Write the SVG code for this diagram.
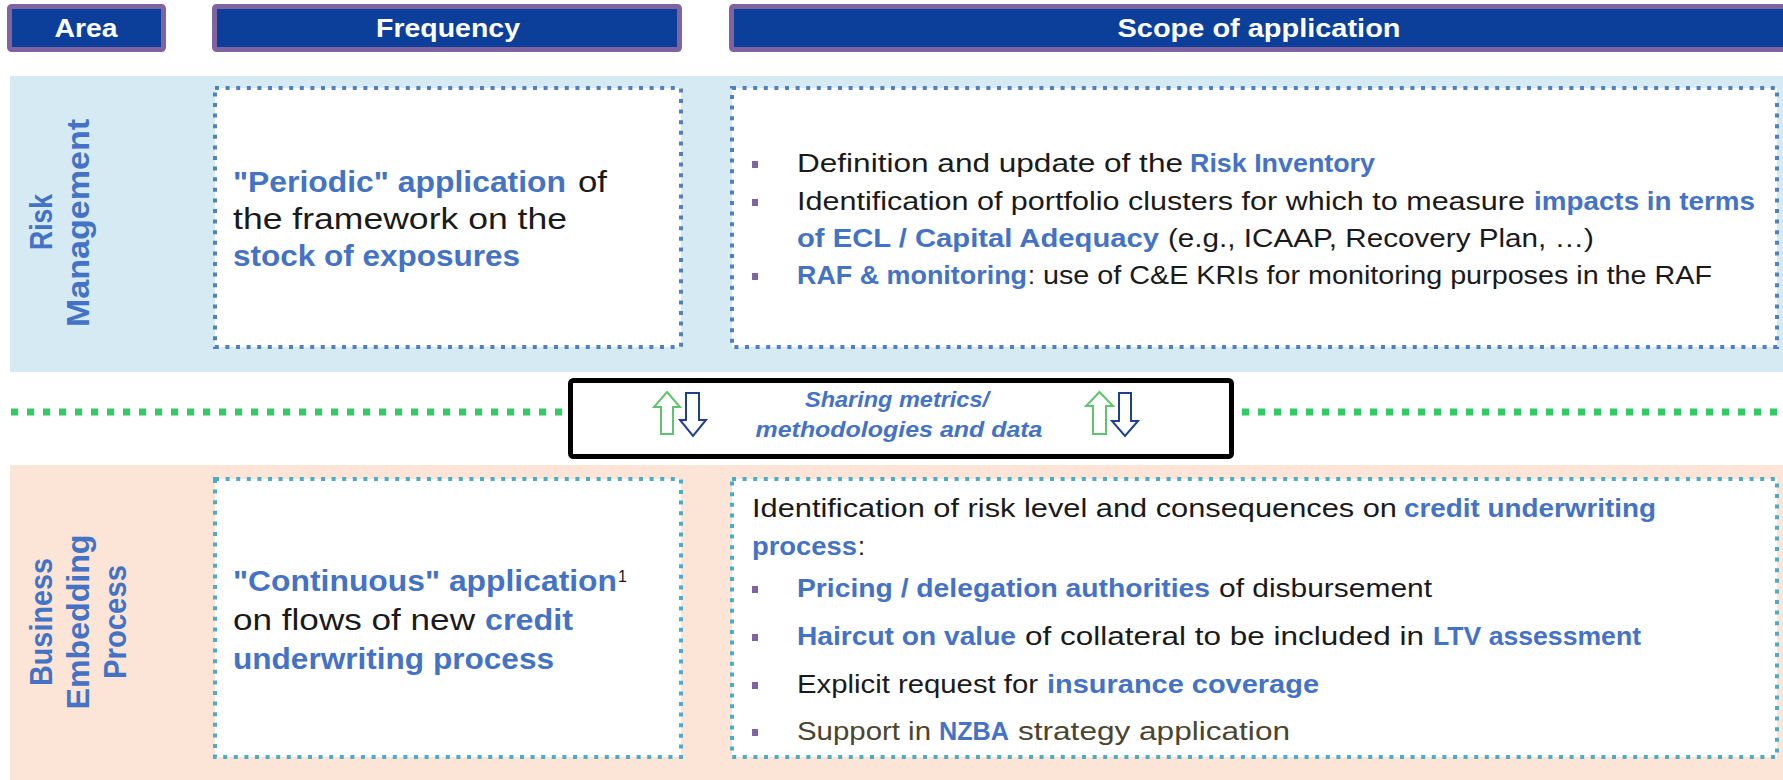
<svg xmlns="http://www.w3.org/2000/svg" width="1783" height="780" viewBox="0 0 1783 780">
<style>
text{font-family:"Liberation Sans",Arial,sans-serif}
.hdr{fill:#0B3F99;stroke:#8064A2;stroke-width:5}
.ht{fill:#fff;font-weight:bold;font-size:26px;text-anchor:middle}
.vt{fill:#4472C4;font-weight:bold;font-size:32px;text-anchor:middle}
.boxR{fill:#fff;stroke:#4F81BD;stroke-width:4;stroke-dasharray:4 6.6}
.boxB{fill:#fff;stroke:#4BACC6;stroke-width:4;stroke-dasharray:4 6.6}
.r{fill:#1A1A1A}
.o{fill:#4A4530}
.b{fill:#4472C4;font-weight:bold}
.f{font-size:29px}
.s{font-size:25px}
.mid{fill:#4472C4;font-size:22px;font-weight:bold;font-style:italic;text-anchor:middle}
.bul{fill:#8064A2}
.up{fill:#fff;stroke:#5EC46E;stroke-width:2}
.dn{fill:#fff;stroke:#1F3F8F;stroke-width:2}
.gl{stroke:#2ECC62;stroke-width:7;stroke-dasharray:7 9;fill:none}
</style>

<g id="header-area">
<rect class="hdr" x="9.5" y="6.5" width="154" height="43" rx="2"/>
<text class="ht" x="86" y="37" textLength="63" lengthAdjust="spacingAndGlyphs">Area</text>
</g>
<g id="header-frequency">
<rect class="hdr" x="214.5" y="6.5" width="465" height="43" rx="2"/>
<text class="ht" x="448" y="37" textLength="144" lengthAdjust="spacingAndGlyphs">Frequency</text>
</g>
<g id="header-scope">
<rect class="hdr" x="731.5" y="6.5" width="1100" height="43" rx="2"/>
<text class="ht" x="1259" y="37" textLength="283" lengthAdjust="spacingAndGlyphs">Scope of application</text>
</g>

<g id="band-risk">
<rect x="10" y="76" width="1773" height="296" fill="#D6EAF3"/>
<text class="vt" transform="translate(52,222) rotate(-90)" textLength="56" lengthAdjust="spacingAndGlyphs">Risk</text>
<text class="vt" transform="translate(89,223) rotate(-90)" textLength="208" lengthAdjust="spacingAndGlyphs">Management</text>
</g>

<g id="risk-frequency">
<rect class="boxR" x="215" y="88" width="466" height="259"/>
<text class="f b" x="233" y="192" textLength="333" lengthAdjust="spacingAndGlyphs">"Periodic" application</text>
<text class="f r" x="578" y="192" textLength="29" lengthAdjust="spacingAndGlyphs">of</text>
<text class="f r" x="233" y="229" textLength="334" lengthAdjust="spacingAndGlyphs">the framework on the</text>
<text class="f b" x="233" y="266" textLength="287" lengthAdjust="spacingAndGlyphs">stock of exposures</text>
</g>

<g id="risk-scope">
<rect class="boxR" x="732" y="88" width="1045" height="259"/>
<rect class="bul" x="752" y="161" width="6" height="7"/>
<rect class="bul" x="752" y="199" width="6" height="7"/>
<rect class="bul" x="752" y="273" width="6" height="7"/>
<text class="s r" x="797" y="172" textLength="386" lengthAdjust="spacingAndGlyphs">Definition and update of the</text>
<text class="s b" x="1190" y="172" textLength="185" lengthAdjust="spacingAndGlyphs">Risk Inventory</text>
<text class="s r" x="797" y="210" textLength="728" lengthAdjust="spacingAndGlyphs">Identification of portfolio clusters for which to measure</text>
<text class="s b" x="1534" y="210" textLength="221" lengthAdjust="spacingAndGlyphs">impacts in terms</text>
<text class="s b" x="797" y="247" textLength="362" lengthAdjust="spacingAndGlyphs">of ECL / Capital Adequacy</text>
<text class="s r" x="1168" y="247" textLength="426" lengthAdjust="spacingAndGlyphs">(e.g., ICAAP, Recovery Plan, …)</text>
<text class="s b" x="797" y="284" textLength="230" lengthAdjust="spacingAndGlyphs">RAF &amp; monitoring</text>
<text class="s r" x="1028" y="284">:</text>
<text class="s r" x="1043" y="284" textLength="669" lengthAdjust="spacingAndGlyphs">use of C&amp;E KRIs for monitoring purposes in the RAF</text>
</g>

<g id="connectors">
<line class="gl" x1="11" y1="412" x2="563" y2="412"/>
<line class="gl" x1="1242" y1="412" x2="1783" y2="412"/>
</g>

<g id="sharing-box">
<rect x="570.5" y="380.5" width="661" height="76" rx="3" fill="#fff" stroke="#000" stroke-width="5"/>
<polygon class="up" points="667,392 680,407 673,407 673,434 661,434 661,407 654,407"/>
<polygon class="dn" points="686,393 699,393 699,420 706,420 693,436 680,420 686,420"/>
<polygon class="up" points="1099.5,392 1113,406 1106,406 1106,434 1093,434 1093,406 1086,406"/>
<polygon class="dn" points="1119,393 1131,393 1131,421 1138,421 1125,436 1112,421 1119,421"/>
<text class="mid" x="897" y="407" textLength="184" lengthAdjust="spacingAndGlyphs">Sharing metrics/</text>
<text class="mid" x="899" y="437" textLength="287" lengthAdjust="spacingAndGlyphs">methodologies and data</text>
</g>

<g id="band-business">
<rect x="10" y="465" width="1773" height="315" fill="#FCE4D6"/>
<text class="vt" transform="translate(52,622) rotate(-90)" textLength="128" lengthAdjust="spacingAndGlyphs">Business</text>
<text class="vt" transform="translate(89,622) rotate(-90)" textLength="175" lengthAdjust="spacingAndGlyphs">Embedding</text>
<text class="vt" transform="translate(126,622) rotate(-90)" textLength="114" lengthAdjust="spacingAndGlyphs">Process</text>
</g>

<g id="business-frequency">
<rect class="boxB" x="215" y="479" width="466" height="278"/>
<text class="f b" x="233" y="591" textLength="384" lengthAdjust="spacingAndGlyphs">"Continuous" application</text>
<text class="r" x="618" y="582" font-size="16">1</text>
<text class="f r" x="233" y="630" textLength="242" lengthAdjust="spacingAndGlyphs">on flows of new</text>
<text class="f b" x="485" y="630" textLength="88" lengthAdjust="spacingAndGlyphs">credit</text>
<text class="f b" x="233" y="669" textLength="321" lengthAdjust="spacingAndGlyphs">underwriting process</text>
</g>

<g id="business-scope">
<rect class="boxB" x="732" y="479" width="1045" height="278"/>
<text class="s r" x="752" y="517" textLength="645" lengthAdjust="spacingAndGlyphs">Identification of risk level and consequences on</text>
<text class="s b" x="1404" y="517" textLength="252" lengthAdjust="spacingAndGlyphs">credit underwriting</text>
<text class="s b" x="752" y="555" textLength="105" lengthAdjust="spacingAndGlyphs">process</text>
<text class="s r" x="858" y="555">:</text>
<rect class="bul" x="752" y="586" width="6" height="7"/>
<rect class="bul" x="752" y="634" width="6" height="7"/>
<rect class="bul" x="752" y="682" width="6" height="7"/>
<rect class="bul" x="752" y="729" width="6" height="7"/>
<text class="s b" x="797" y="597" textLength="413" lengthAdjust="spacingAndGlyphs">Pricing / delegation authorities</text>
<text class="s r" x="1219" y="597" textLength="213" lengthAdjust="spacingAndGlyphs">of disbursement</text>
<text class="s b" x="797" y="645" textLength="219" lengthAdjust="spacingAndGlyphs">Haircut on value</text>
<text class="s r" x="1025" y="645" textLength="399" lengthAdjust="spacingAndGlyphs">of collateral to be included in</text>
<text class="s b" x="1433" y="645" textLength="208" lengthAdjust="spacingAndGlyphs">LTV assessment</text>
<text class="s r" x="797" y="693" textLength="241" lengthAdjust="spacingAndGlyphs">Explicit request for</text>
<text class="s b" x="1047" y="693" textLength="272" lengthAdjust="spacingAndGlyphs">insurance coverage</text>
<text class="s o" x="797" y="740" textLength="134" lengthAdjust="spacingAndGlyphs">Support in</text>
<text class="s b" x="939" y="740" textLength="70" lengthAdjust="spacingAndGlyphs">NZBA</text>
<text class="s o" x="1018" y="740" textLength="272" lengthAdjust="spacingAndGlyphs">strategy application</text>
</g>
</svg>
